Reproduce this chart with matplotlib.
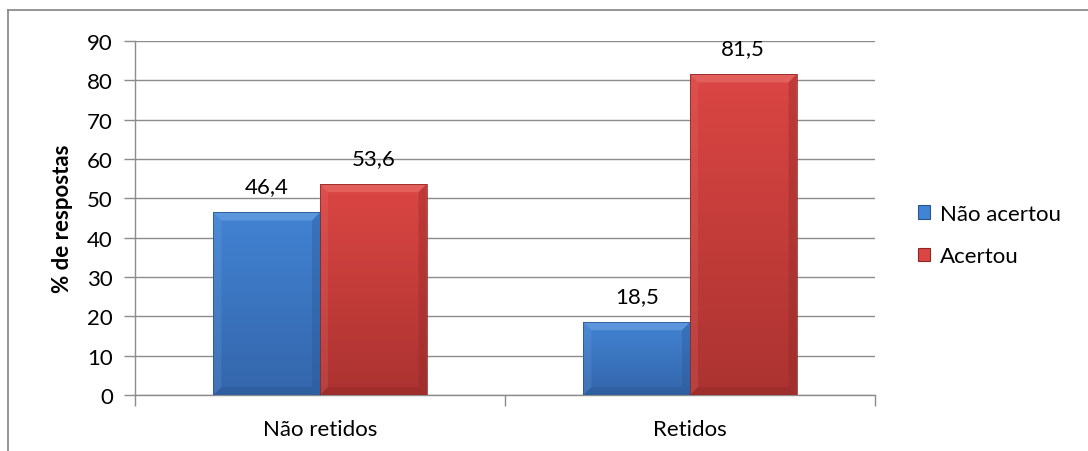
import numpy as np
import matplotlib
matplotlib.use("Agg")
import matplotlib.pyplot as plt
from matplotlib.patches import Polygon, Patch
from matplotlib.colors import LinearSegmentedColormap
from matplotlib.lines import Line2D

plt.rcParams['font.family'] = ['Lato', 'DejaVu Sans']

categories = ["Não retidos", "Retidos"]
series_names = ["Não acertou", "Acertou"]
nao_acertou = [46.4, 18.5]
acertou = [53.6, 81.5]
value_labels = [["46,4", "18,5"], ["53,6", "81,5"]]
y_ticks = [0, 10, 20, 30, 40, 50, 60, 70, 80, 90]

FS = 16
W, H = 1088, 452
fig = plt.figure(figsize=(W / 100, H / 100), dpi=100)
ax = fig.add_axes([135 / W, 56 / H, 740 / W, 354 / H])

# chart frame (runs off the right and bottom edges)
fig.add_artist(Line2D([8 / W, 1.0], [1 - 11 / H, 1 - 11 / H], color="#8c8c8c", lw=1.3, transform=fig.transFigure))
fig.add_artist(Line2D([8 / W, 8 / W], [0, 1 - 11 / H], color="#8c8c8c", lw=1.3, transform=fig.transFigure))

styles = [
    dict(top="#4283d3", bot="#3466ab", light="#78aae6", dark="#2b5591"),
    dict(top="#db4643", bot="#ab3331", light="#ec7a77", dark="#8c2826"),
]

centers = np.arange(len(categories)) + 0.5
bw = 0.288
ax.set_xlim(0, 2)
ax.set_ylim(0, 90)

px_x = 2.0 / 740
px_y = 90.0 / 354

for s, (vals, st) in enumerate(zip([nao_acertou, acertou], styles)):
    xs = centers + (s - 0.5) * bw
    bars = ax.bar(xs, vals, width=bw, color=st["top"], edgecolor="none", zorder=3)
    cmap = LinearSegmentedColormap.from_list("g", [st["bot"], st["top"]])
    for b, lab in zip(bars, value_labels[s]):
        x0, y0, w, h = b.get_x(), b.get_y(), b.get_width(), b.get_height()
        grad = np.linspace(0, 1, 256).reshape(-1, 1)
        im = ax.imshow(grad, cmap=cmap, origin="lower", aspect="auto",
                       extent=[x0, x0 + w, y0, y0 + h], zorder=3.1)
        im.set_clip_path(b)
        bx, by = 8 * px_x, 8 * px_y
        top = Polygon([[x0, y0 + h], [x0 + w, y0 + h], [x0 + w - bx, y0 + h - by], [x0 + bx, y0 + h - by]],
                      closed=True, facecolor=st["light"], edgecolor="none", alpha=0.5, zorder=3.2)
        left = Polygon([[x0, y0], [x0, y0 + h], [x0 + bx, y0 + h - by], [x0 + bx, y0 + by]],
                       closed=True, facecolor=st["light"], edgecolor="none", alpha=0.2, zorder=3.2)
        right = Polygon([[x0 + w, y0], [x0 + w, y0 + h], [x0 + w - bx, y0 + h - by], [x0 + w - bx, y0 + by]],
                        closed=True, facecolor=st["dark"], edgecolor="none", alpha=0.35, zorder=3.2)
        bottom = Polygon([[x0, y0], [x0 + w, y0], [x0 + w - bx, y0 + by], [x0 + bx, y0 + by]],
                         closed=True, facecolor=st["dark"], edgecolor="none", alpha=0.4, zorder=3.2)
        for p in (top, left, right, bottom):
            ax.add_patch(p)
        ax.add_patch(plt.Rectangle((x0, y0), w, h, fill=False, edgecolor=st["dark"], lw=0.7, alpha=0.8, zorder=3.3))
        ax.annotate(lab, (x0 + w / 2, y0 + h), xytext=(0, 14.5), textcoords="offset points",
                    ha="center", va="baseline", fontsize=FS, color="black", zorder=4)

ax.set_yticks(y_ticks)
ax.set_yticklabels([str(t) for t in y_ticks], fontsize=FS)
ax.yaxis.grid(True, color="#8c8c8c", lw=1.0, zorder=0)
ax.set_axisbelow(True)

ax.set_xticks([0, 1, 2])
ax.set_xticklabels([])
ax.set_xticks(centers, minor=True)
ax.set_xticklabels(categories, minor=True, fontsize=FS)
ax.tick_params(axis="x", which="minor", length=0, pad=17)
ax.tick_params(axis="x", which="major", length=8, direction="out", color="#8c8c8c", width=1.0)
ax.tick_params(axis="y", length=8, direction="out", color="#8c8c8c", width=1.0, pad=8)

for side in ["top", "right"]:
    ax.spines[side].set_visible(False)
for side in ["left", "bottom"]:
    ax.spines[side].set_color("#8c8c8c")
    ax.spines[side].set_linewidth(1.0)

ax.set_ylabel("% de respostas", fontsize=FS, fontweight="bold", labelpad=10)

handles = [Patch(facecolor=styles[0]["top"], edgecolor=styles[0]["dark"], lw=0.8),
           Patch(facecolor=styles[1]["top"], edgecolor=styles[1]["dark"], lw=0.8)]
fig.legend(handles, series_names, loc="center left", bbox_to_anchor=(907 / W, 1 - 236 / H),
           frameon=False, fontsize=FS, handlelength=0.55, handleheight=0.55, handletextpad=0.45,
           labelspacing=1.0, borderpad=0)

fig.savefig("out.png", dpi=100)
